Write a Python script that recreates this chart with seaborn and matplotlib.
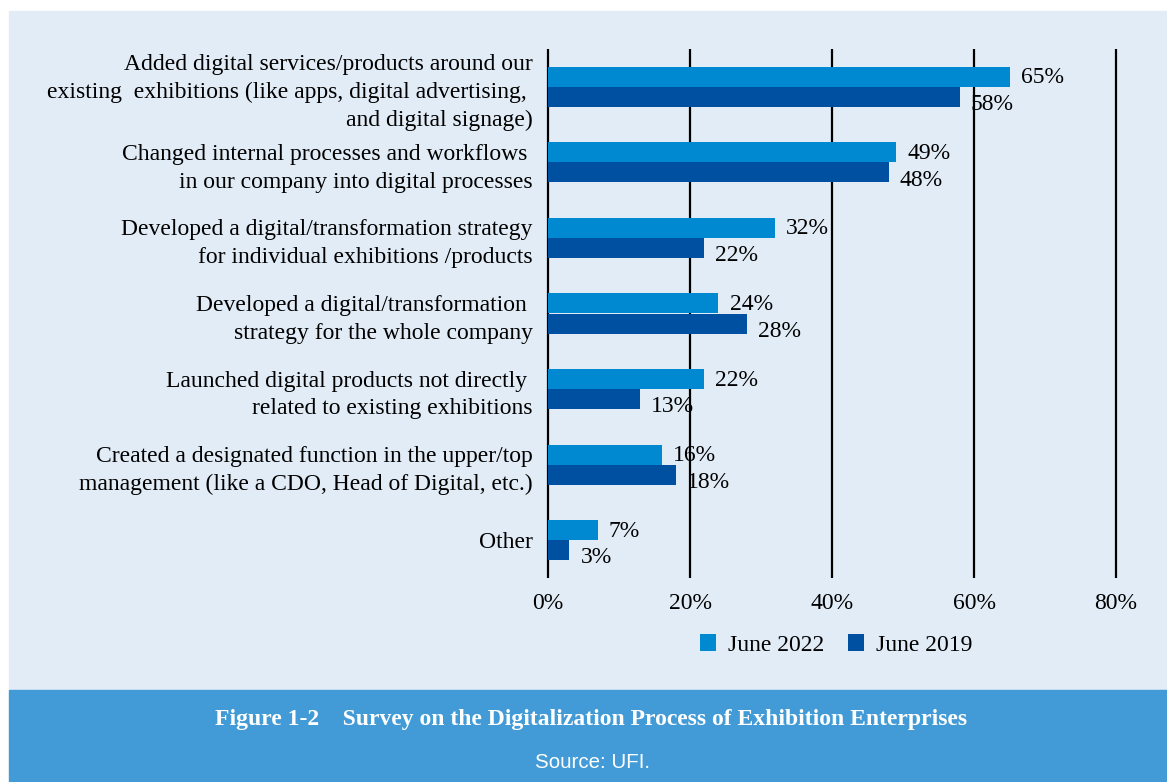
import matplotlib
matplotlib.use("Agg")
import matplotlib.pyplot as plt
from matplotlib.patches import Rectangle, Patch
import pandas as pd
import seaborn as sns

# Survey categories and shares (%)
categories = [
    "Added digital services/products around our\nexisting  exhibitions (like apps, digital advertising, \nand digital signage)",
    "Changed internal processes and workflows \nin our company into digital processes",
    "Developed a digital/transformation strategy\nfor individual exhibitions /products",
    "Developed a digital/transformation \nstrategy for the whole company",
    "Launched digital products not directly \nrelated to existing exhibitions",
    "Created a designated function in the upper/top\nmanagement (like a CDO, Head of Digital, etc.)",
    "Other",
]
june_2022 = [65, 49, 32, 24, 22, 16, 7]
june_2019 = [58, 48, 22, 28, 13, 18, 3]
periods = ["June 2022", "June 2019"]
x_ticks = [0, 20, 40, 60, 80]
x_tick_labels = ["0%", "20%", "40%", "60%", "80%"]

colors = {"June 2022": "#0089d1", "June 2019": "#0050a2"}
panel_color = "#e2ecf6"
band_color = "#429bd6"

df = pd.DataFrame({
    "category": categories * 2,
    "value": june_2022 + june_2019,
    "period": [periods[0]] * len(categories) + [periods[1]] * len(categories),
})

W, H = 1167, 782
fig = plt.figure(figsize=(W / 100, H / 100), dpi=100)
fig.patch.set_facecolor("white")

# light panel and caption band
fig.patches.append(Rectangle((9 / W, 1 - 690 / H), 1 - 9 / W, (690 - 11) / H,
                             transform=fig.transFigure, color=panel_color, zorder=-10))
fig.patches.append(Rectangle((9 / W, 0), 1 - 9 / W, (782 - 690) / H,
                             transform=fig.transFigure, color=band_color, zorder=-10))

serif = "Liberation Serif"
fs = 17

px_per_unit = (1116 - 548) / 80
x0 = 548 - 0.5 * px_per_unit
x1 = 1116 + 0.5 * px_per_unit
ax = fig.add_axes([x0 / W, 1 - 578 / H, (x1 - x0) / W, (578 - 49) / H])
ax.set_facecolor("none")

sns.barplot(data=df, y="category", x="value", hue="period", hue_order=periods,
            palette=colors, orient="h", width=0.53, gap=0, ax=ax, legend=False,
            saturation=1, linewidth=0)

ax.set_xlim(-0.5, 80.5)
ax.set_ylim(6.5, -0.5)
ax.set_xticks(x_ticks)
ax.set_xticklabels(x_tick_labels, fontfamily=serif, fontsize=fs)
ax.set_yticks(range(len(categories)))
ax.set_yticklabels(categories, fontfamily=serif, fontsize=fs, linespacing=1.42)
ax.tick_params(axis="both", length=0)
ax.tick_params(axis="y", pad=8.3)
ax.tick_params(axis="x", pad=10.5)
ax.set_xlabel("")
ax.set_ylabel("")
for s in ax.spines.values():
    s.set_visible(False)
ax.set_axisbelow(True)
ax.grid(axis="x", color="black", linewidth=1.6)
ax.grid(axis="y", visible=False)

# value labels
for container, period, dy in zip(ax.containers, periods, [-0.7, -5.5]):
    for bar in container:
        v = bar.get_width()
        ax.annotate(f"{v:g}%", xy=(v, bar.get_y() + bar.get_height() / 2),
                    xytext=(8, dy), textcoords="offset points", va="center",
                    ha="left", fontfamily=serif, fontsize=fs)

handles = [Patch(facecolor=colors[p], label=p) for p in periods]
fig.legend(handles=handles, loc="center", bbox_to_anchor=(836 / W, 1 - 645 / H),
           ncol=2, frameon=False, prop={"family": serif, "size": fs},
           handlelength=0.68, handleheight=0.68, handletextpad=0.5, columnspacing=1.0)

fig.text(591 / W, 1 - 719 / H,
         "Figure 1-2    Survey on the Digitalization Process of Exhibition Enterprises",
         ha="center", va="center", color="white", fontfamily=serif,
         fontweight="bold", fontsize=17)
fig.text(592 / W, 1 - 763 / H, "Source: UFI.", ha="center", va="center",
         color="white", fontfamily="Liberation Sans", fontsize=14.8)

fig.savefig("out.png", dpi=100)
